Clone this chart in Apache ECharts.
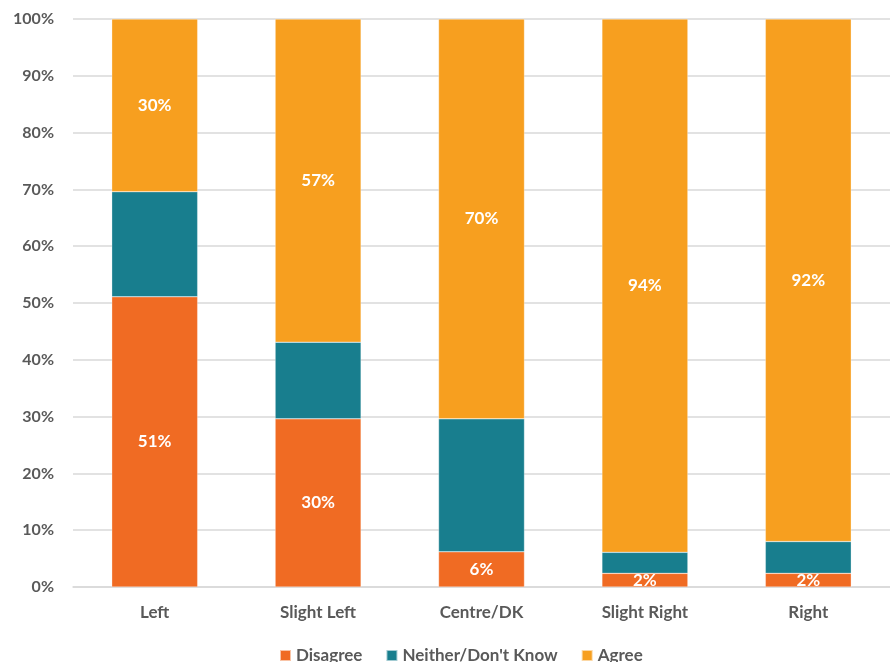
<!DOCTYPE html>
<html><head><meta charset="utf-8">
<script src="https://cdn.jsdelivr.net/npm/echarts@6/dist/echarts.min.js"></script>
<style>html,body{margin:0;padding:0;background:#fff}#c{width:890px;height:662px}</style>
</head><body><div id="c"></div>
<script>
const categories = ['Left', 'Slight Left', 'Centre/DK', 'Slight Right', 'Right'];
const disagree = [51.1, 29.6, 6.2, 2.4, 2.4];
const neither = [18.5, 13.5, 23.4, 3.7, 5.6];
const agree = [30.4, 56.9, 70.4, 93.9, 92.0];
const yTicks = [0, 10, 20, 30, 40, 50, 60, 70, 80, 90, 100];

const font = 'Lato, "Open Sans", sans-serif';
const labelStyle = {show: true, position: 'inside', color: '#fff', fontWeight: 'bold', fontSize: 17, fontFamily: font,
  formatter: p => Math.round(p.value) + '%'};
function ser(name, data, color, showLabel) {
  return {name, type: 'bar', stack: 'a', data, barWidth: '52.6%',
    itemStyle: {color, borderColor: 'rgba(255,255,255,0.6)', borderWidth: 0.5},
    label: showLabel ? labelStyle : {show: false}};
}
const chart = echarts.init(document.getElementById('c'));
chart.setOption({
  animation: false,
  grid: {left: 73, top: 19, width: 827, height: 568, containLabel: false},
  legend: {bottom: -7, left: 274, itemWidth: 11, itemHeight: 11, itemGap: 23, icon: 'rect',
    textStyle: {color: '#595959', fontWeight: 'bold', fontSize: 17, fontFamily: font},
    data: ['Disagree', 'Neither/Don\'t Know', 'Agree']},
  xAxis: {type: 'category', data: categories,
    axisLine: {lineStyle: {color: '#d9d9d9', width: 1.5}}, axisTick: {show: false},
    axisLabel: {color: '#595959', fontWeight: 'bold', fontSize: 17, fontFamily: font, margin: 17}},
  yAxis: {type: 'value', min: yTicks[0], max: yTicks[yTicks.length - 1], interval: 10,
    axisLine: {show: false}, axisTick: {show: false},
    splitLine: {lineStyle: {color: '#d9d9d9', width: 1.5}},
    axisLabel: {color: '#595959', fontWeight: 'bold', fontSize: 16, fontFamily: font, margin: 19,
      formatter: v => v + '%'}},
  series: [
    ser('Disagree', disagree, '#F06B23', true),
    ser('Neither/Don\'t Know', neither, '#187E8E', false),
    ser('Agree', agree, '#F79F1F', true)
  ]
});
</script></body></html>
